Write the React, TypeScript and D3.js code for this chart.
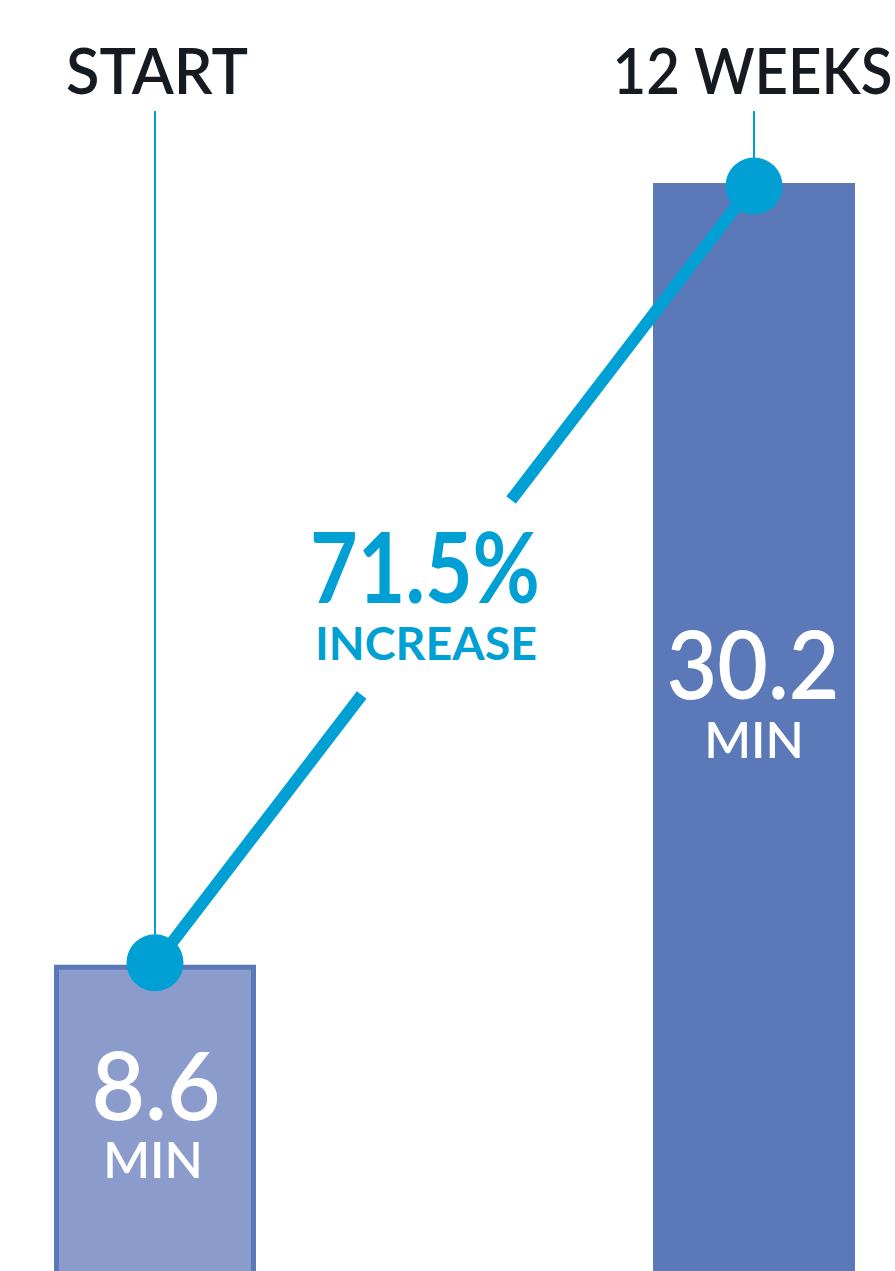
import React from "react";
import * as d3 from "d3";

const categories = ["START", "12 WEEKS"];
const values = [8.6, 30.2];
const unitLabel = "MIN";
const changeValue = "71.5%";
const changeLabel = "INCREASE";

const W = 895;
const H = 1271;
const BLUE = "#009fd4";
const DARK = "#161b21";
const FONT = "Lato, 'Open Sans', sans-serif";

export default function App() {
  const x = d3.scalePoint<string>().domain(categories).range([155, 754]);
  const y = d3.scaleLinear().domain([0, 30.2]).range([1276, 183]);
  const barW = 202;

  const p0 = { x: x(categories[0])!, y: y(values[0]) };
  const p1 = { x: x(categories[1])!, y: y(values[1]) };
  const atY = (yy: number) => p0.x + ((yy - p0.y) / (p1.y - p0.y)) * (p1.x - p0.x);
  const gapTop = 500;
  const gapBot = 695;

  const catWidths = [182, 280];
  const valWidths = [129, 173];

  return (
    <svg
      width={W}
      height={H}
      style={{ position: "absolute", left: 0, top: 0, background: "#fff" }}
      fontFamily={FONT}
    >
      {/* bars */}
      {categories.map((c, i) => {
        const cx = x(c)!;
        const top = y(values[i]);
        if (i === 0) {
          return (
            <rect
              key={c}
              x={cx - barW / 2 + 2.5}
              y={top + 2.5}
              width={barW - 5}
              height={H - top + 20}
              fill="#8a9bcc"
              stroke="#5b78b8"
              strokeWidth={5}
            />
          );
        }
        return (
          <rect key={c} x={cx - barW / 2} y={top} width={barW} height={H - top + 20} fill="#5b79b8" />
        );
      })}

      {/* thin vertical guide lines */}
      {categories.map((c, i) => (
        <line
          key={"g" + c}
          x1={x(c)!}
          x2={x(c)!}
          y1={111}
          y2={y(values[i])}
          stroke={BLUE}
          strokeWidth={2}
        />
      ))}

      {/* connecting line with gap */}
      <line x1={p0.x} y1={p0.y} x2={atY(gapBot)} y2={gapBot} stroke={BLUE} strokeWidth={12} />
      <line x1={atY(gapTop)} y1={gapTop} x2={p1.x} y2={p1.y} stroke={BLUE} strokeWidth={12} />

      {/* dots */}
      {categories.map((c, i) => (
        <circle key={"d" + c} cx={x(c)!} cy={y(values[i]) + (i === 0 ? -2 : 3)} r={28.5} fill={BLUE} />
      ))}

      {/* category labels */}
      {categories.map((c, i) => (
        <text
          key={"t" + c}
          x={x(c)! + (i === 0 ? 2 : -1.5)}
          y={94}
          textAnchor="middle"
          fontSize={63}
          fontWeight={600}
          fill={DARK}
          textLength={catWidths[i]}
          lengthAdjust="spacingAndGlyphs"
        >
          {c}
        </text>
      ))}

      {/* value labels */}
      {categories.map((c, i) => {
        const cx = x(c)!;
        const base = i === 0 ? 1120 : 699;
        return (
          <g key={"v" + c} fill="#fff" textAnchor="middle" fontWeight={600}>
            <text
              x={i === 0 ? cx + 1 : cx - 1}
              y={base}
              fontSize={95}
              textLength={valWidths[i]}
              lengthAdjust="spacingAndGlyphs"
            >
              {values[i].toFixed(1)}
            </text>
            <text x={i === 0 ? cx - 2 : cx} y={base + (i === 0 ? 58 : 59)} fontSize={50}>
              {unitLabel}
            </text>
          </g>
        );
      })}

      {/* change annotation */}
      <g fill={BLUE} textAnchor="middle" fontWeight={700}>
        <text x={425} y={603} fontSize={97} textLength={230} lengthAdjust="spacingAndGlyphs">
          {changeValue}
        </text>
        <text x={426} y={660} fontSize={46} textLength={222} lengthAdjust="spacingAndGlyphs">
          {changeLabel}
        </text>
      </g>
    </svg>
  );
}
